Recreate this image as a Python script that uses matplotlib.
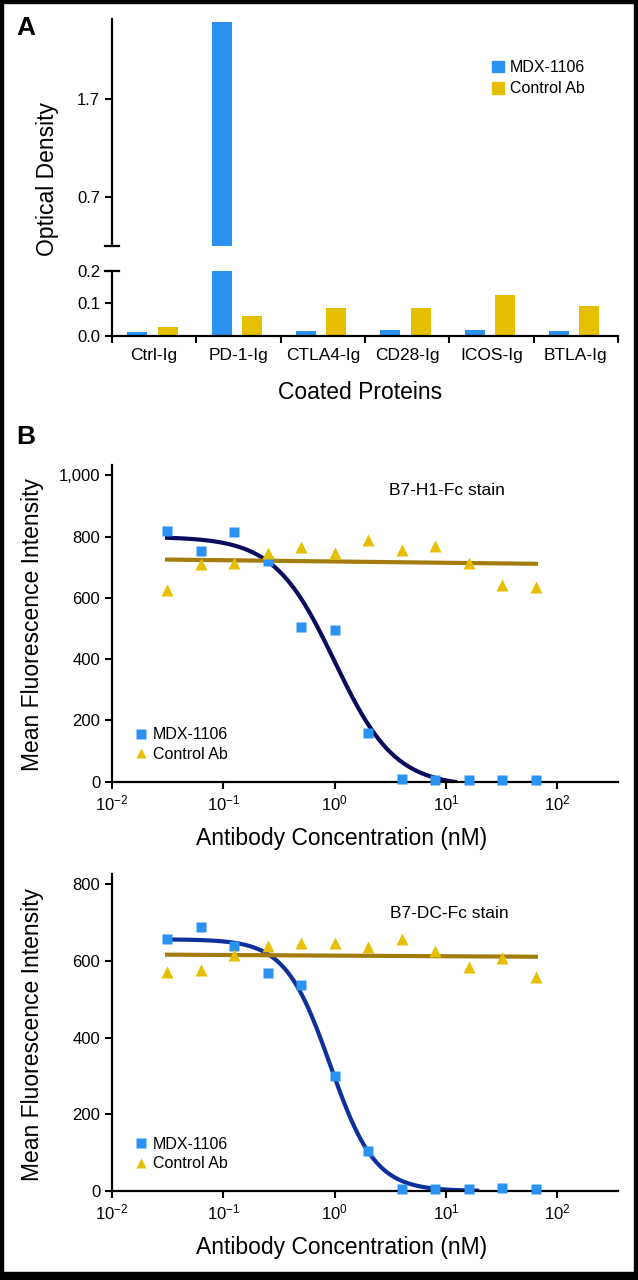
import matplotlib
matplotlib.use('Agg')
import matplotlib.pyplot as plt
import numpy as np
from matplotlib.lines import Line2D
from matplotlib.patches import Patch, Rectangle
from matplotlib.ticker import NullLocator

plt.rcParams['font.family'] = ['Liberation Sans', 'DejaVu Sans']
plt.rcParams['mathtext.default'] = 'regular'

# --- данные панели A (ELISA) ---
proteins = ['Ctrl-Ig', 'PD-1-Ig', 'CTLA4-Ig', 'CD28-Ig', 'ICOS-Ig', 'BTLA-Ig']
od_mdx = [0.012, 2.48, 0.015, 0.017, 0.018, 0.015]
od_ctrl = [0.027, 0.062, 0.086, 0.084, 0.124, 0.091]

# --- данные панели B (проточная цитометрия) ---
conc = [0.03125, 0.0625, 0.125, 0.25, 0.5, 1, 2, 4, 8, 16, 32, 64]
h1_mdx = [818, 754, 815, 722, 506, 494, 158, 9, 6, 5, 5, 5]
h1_ctrl = [625, 710, 715, 748, 765, 748, 790, 755, 770, 715, 643, 636]
dc_mdx = [657, 688, 640, 570, 538, 300, 105, 4, 5, 6, 7, 5]
dc_ctrl = [572, 577, 616, 638, 648, 646, 636, 657, 625, 585, 609, 557]
h1_curve_end = 12
dc_curve_end = 19

b_xticks = [1e-2, 1e-1, 1, 10, 100]
h1_yticks = [0, 200, 400, 600, 800, 1000]
h1_ylabels = ['0', '200', '400', '600', '800', '1,000']
dc_yticks = [0, 200, 400, 600, 800]

BLUE = '#2A93F2'
YELLOW = '#E6BF00'
GOLD = '#A27C0C'

W, H = 638, 1280
fig = plt.figure(figsize=(W / 100, H / 100), dpi=100)


def px_axes(x0, y0, x1, y1):
    return fig.add_axes([x0 / W, 1 - y1 / H, (x1 - x0) / W, (y1 - y0) / H])


def fit_4pl(x, y):
    # простой перебор по EC50 и наклону, верх/низ - МНК
    lx = np.log10(x)
    y = np.asarray(y, float)
    best = None
    for h in np.linspace(0.8, 4, 65):
        for le in np.linspace(-1, 1, 101):
            f = 1 / (1 + 10 ** (h * (lx - le)))
            A = np.column_stack([np.ones_like(f), f])
            coef = np.linalg.lstsq(A, y, rcond=None)[0]
            sse = np.sum((A @ coef - y) ** 2)
            if best is None or sse < best[0]:
                best = (sse, coef[0], coef[1], h, le)
    _, bottom, span, h, le = best
    return lambda xx: bottom + span / (1 + 10 ** (h * (np.log10(xx) - le)))


def style_y(ax):
    ax.spines['top'].set_visible(False)
    ax.spines['right'].set_visible(False)
    for s in ax.spines.values():
        s.set_linewidth(1.6)
    ax.tick_params(axis='both', which='both', direction='out', length=5, width=1.5,
                   labelsize=12, pad=3.5)


# ---------------- Панель A ----------------
axA1 = px_axes(112, 19.3, 618, 246)
axA2 = px_axes(112, 270.7, 618, 335.7)
x = np.arange(len(proteins))
for ax in (axA1, axA2):
    ax.bar(x - 0.2, od_mdx, width=0.24, color=BLUE)
    ax.bar(x + 0.16, od_ctrl, width=0.24, color=YELLOW)
    ax.set_xlim(-0.5, 5.5)
    style_y(ax)
    # маркер разрыва оси
    yb = 0 if ax is axA1 else 1
    ax.plot([-7 / 506, 7 / 506], [yb, yb], transform=ax.transAxes, color='black',
            lw=1.6, clip_on=False)

axA1.set_ylim(0.2, 2.51)
axA1.spines['bottom'].set_visible(False)
axA1.set_yticks([0.7, 1.7])
axA1.set_yticklabels(['0.7', '1.7'])
axA1.set_xticks([])

axA2.set_ylim(0, 0.2)
axA2.set_yticks([0, 0.1, 0.2])
axA2.set_yticklabels(['0.0', '0.1', '0.2'])
axA2.set_xticks(x)
axA2.set_xticklabels(proteins, fontsize=12.5)
axA2.set_xticks(np.arange(-0.5, 6), minor=True)
axA2.tick_params(axis='x', which='major', length=0, pad=9)
axA2.tick_params(axis='x', which='minor', length=5, width=1.5)
axA2.set_xlabel('Coated Proteins', fontsize=16.5, va='center')
axA2.xaxis.set_label_coords((360 - 112) / 506, -(392.7 - 335.7) / 65)

fig.text(48 / W, 1 - 178.5 / H, 'Optical Density', rotation=90, fontsize=16.5,
         ha='center', va='center')

axA1.legend(handles=[Patch(color=BLUE, label='MDX-1106'), Patch(color=YELLOW, label='Control Ab')],
            loc='upper left', bbox_to_anchor=(492 / W, 1 - 60 / H), bbox_transform=fig.transFigure,
            frameon=False, fontsize=11.5, handlelength=0.75, handleheight=0.75,
            handletextpad=0.35, borderpad=0, borderaxespad=0, labelspacing=0.4)

# ---------------- Панель B ----------------
panels = [
    (px_axes(112, 465, 618, 781.7), h1_mdx, h1_ctrl, h1_curve_end, 1034, h1_yticks, h1_ylabels,
     'B7-H1-Fc stain', (0.662, 0.919), '#0C0C5E'),
    (px_axes(112, 874, 618, 1191), dc_mdx, dc_ctrl, dc_curve_end, 827, dc_yticks,
     [str(v) for v in dc_yticks], 'B7-DC-Fc stain', (0.667, 0.876), '#0E309A'),
]

for ax, mdx, ctrl, cend, ytop, yt, ylab, title, tpos, ccol in panels:
    ax.set_xscale('log')
    ax.set_xlim(0.01, 350)
    ax.set_ylim(0, ytop)
    style_y(ax)
    ax.set_xticks(b_xticks)
    ax.xaxis.set_minor_locator(NullLocator())
    ax.set_yticks(yt)
    ax.set_yticklabels(ylab)

    # кривые аппроксимации
    xs = np.logspace(np.log10(conc[0]), np.log10(cend), 200)
    ax.plot(xs, fit_4pl(conc, mdx)(xs), color=ccol, lw=3, zorder=2)
    k, b = np.polyfit(np.log10(conc), ctrl, 1)
    xl = np.array([conc[0], conc[-1]])
    ax.plot(xl, k * np.log10(xl) + b, color=GOLD, lw=3, zorder=2)

    ax.plot(conc, mdx, 's', color=BLUE, ms=7.5, mec='none', clip_on=False, zorder=3)
    ax.plot(conc, ctrl, '^', color=YELLOW, ms=8.5, mec='none', clip_on=False, zorder=3)

    ax.text(tpos[0], tpos[1], title, transform=ax.transAxes, ha='center', va='center',
            fontsize=12.5)
    ax.set_xlabel('Antibody Concentration (nM)', fontsize=16.5, va='center')
    ax.xaxis.set_label_coords(0.454, -0.1787)
    ax.set_ylabel('Mean Fluorescence Intensity', fontsize=16.5, va='center')
    ax.yaxis.set_label_coords(-0.157, 0.495)

    ax.legend(handles=[Line2D([], [], marker='s', ls='none', color=BLUE, ms=6.5, mec='none', label='MDX-1106'),
                       Line2D([], [], marker='^', ls='none', color=YELLOW, ms=7.5, mec='none', label='Control Ab')],
              loc='lower left', bbox_to_anchor=(0.045, 0.062), frameon=False, fontsize=11.5,
              handlelength=0.8, handletextpad=0.35, borderpad=0, borderaxespad=0,
              labelspacing=0.3)

fig.text(26 / W, 1 - 28 / H, 'A', fontsize=19, fontweight='bold', ha='center', va='center')
fig.text(26 / W, 1 - 436.7 / H, 'B', fontsize=19, fontweight='bold', ha='center', va='center')

# чёрная рамка вокруг рисунка
for rx, ry, rw, rh in [(0, 0, 3, H), (0, 0, W, 2.5), (W - 4, 0, 4, H), (0, H - 8, W, 8)]:
    fig.patches.append(Rectangle((rx / W, 1 - (ry + rh) / H), rw / W, rh / H, color='black',
                                 transform=fig.transFigure, figure=fig))

plt.savefig('out.png', dpi=100)
